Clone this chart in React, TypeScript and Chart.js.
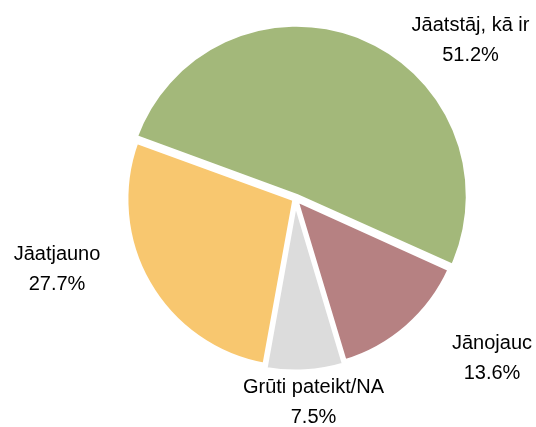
import React, { useEffect, useRef } from "react";
import { Chart, registerables } from "chart.js";

Chart.register(...registerables);

const categories = ["Jāatstāj, kā ir", "Jānojauc", "Grūti pateikt/NA", "Jāatjauno"];
const values = [51.2, 13.6, 7.5, 27.7];
const valueLabels = ["51.2%", "13.6%", "7.5%", "27.7%"];
const colors = ["#a3b87a", "#b68182", "#dcdcdc", "#f8c76f"];
const offsets = [13, 6, 12, 4];
// label anchor (first-line baseline) relative to pie centre
const labelOffsets = [
  [175.2, -167.9],
  [196.7, 150.1],
  [18.2, 194.1],
  [-238.3, 61.1],
];

const labelPlugin = {
  id: "sliceLabels",
  afterDatasetsDraw(chart: any) {
    const meta = chart.getDatasetMeta(0);
    const ctx = chart.ctx;
    ctx.save();
    ctx.font = '20px "Liberation Sans", Arial, sans-serif';
    ctx.fillStyle = "#000";
    ctx.textAlign = "center";
    ctx.textBaseline = "alphabetic";
    meta.data.forEach((arc: any, i: number) => {
      const cx = arc.x;
      const cy = arc.y;
      const [dx, dy] = labelOffsets[i];
      ctx.fillText(categories[i], cx + dx, cy + dy);
      ctx.fillText(valueLabels[i], cx + dx, cy + dy + 30);
    });
    ctx.restore();
  },
};

export default function App() {
  const ref = useRef<HTMLCanvasElement | null>(null);
  useEffect(() => {
    if (!ref.current) return;
    const chart = new Chart(ref.current, {
      type: "pie",
      data: {
        labels: categories,
        datasets: [
          {
            data: values,
            backgroundColor: colors,
            borderColor: "#ffffff",
            borderWidth: 4,
            offset: offsets,
          },
        ],
      },
      options: {
        responsive: false,
        animation: false,
        rotation: -70,
        layout: { padding: { left: 118.8, right: 64.2, top: 22.4, bottom: 51.6 } },
        plugins: {
          legend: { display: false },
          tooltip: { enabled: false },
        },
      },
      plugins: [labelPlugin],
    });
    return () => chart.destroy();
  }, []);
  return (
    <div style={{ position: "fixed", left: 0, top: 0, width: 536, height: 427, background: "#fff" }}>
      <canvas ref={ref} width={536} height={427} style={{ display: "block" }} />
    </div>
  );
}
